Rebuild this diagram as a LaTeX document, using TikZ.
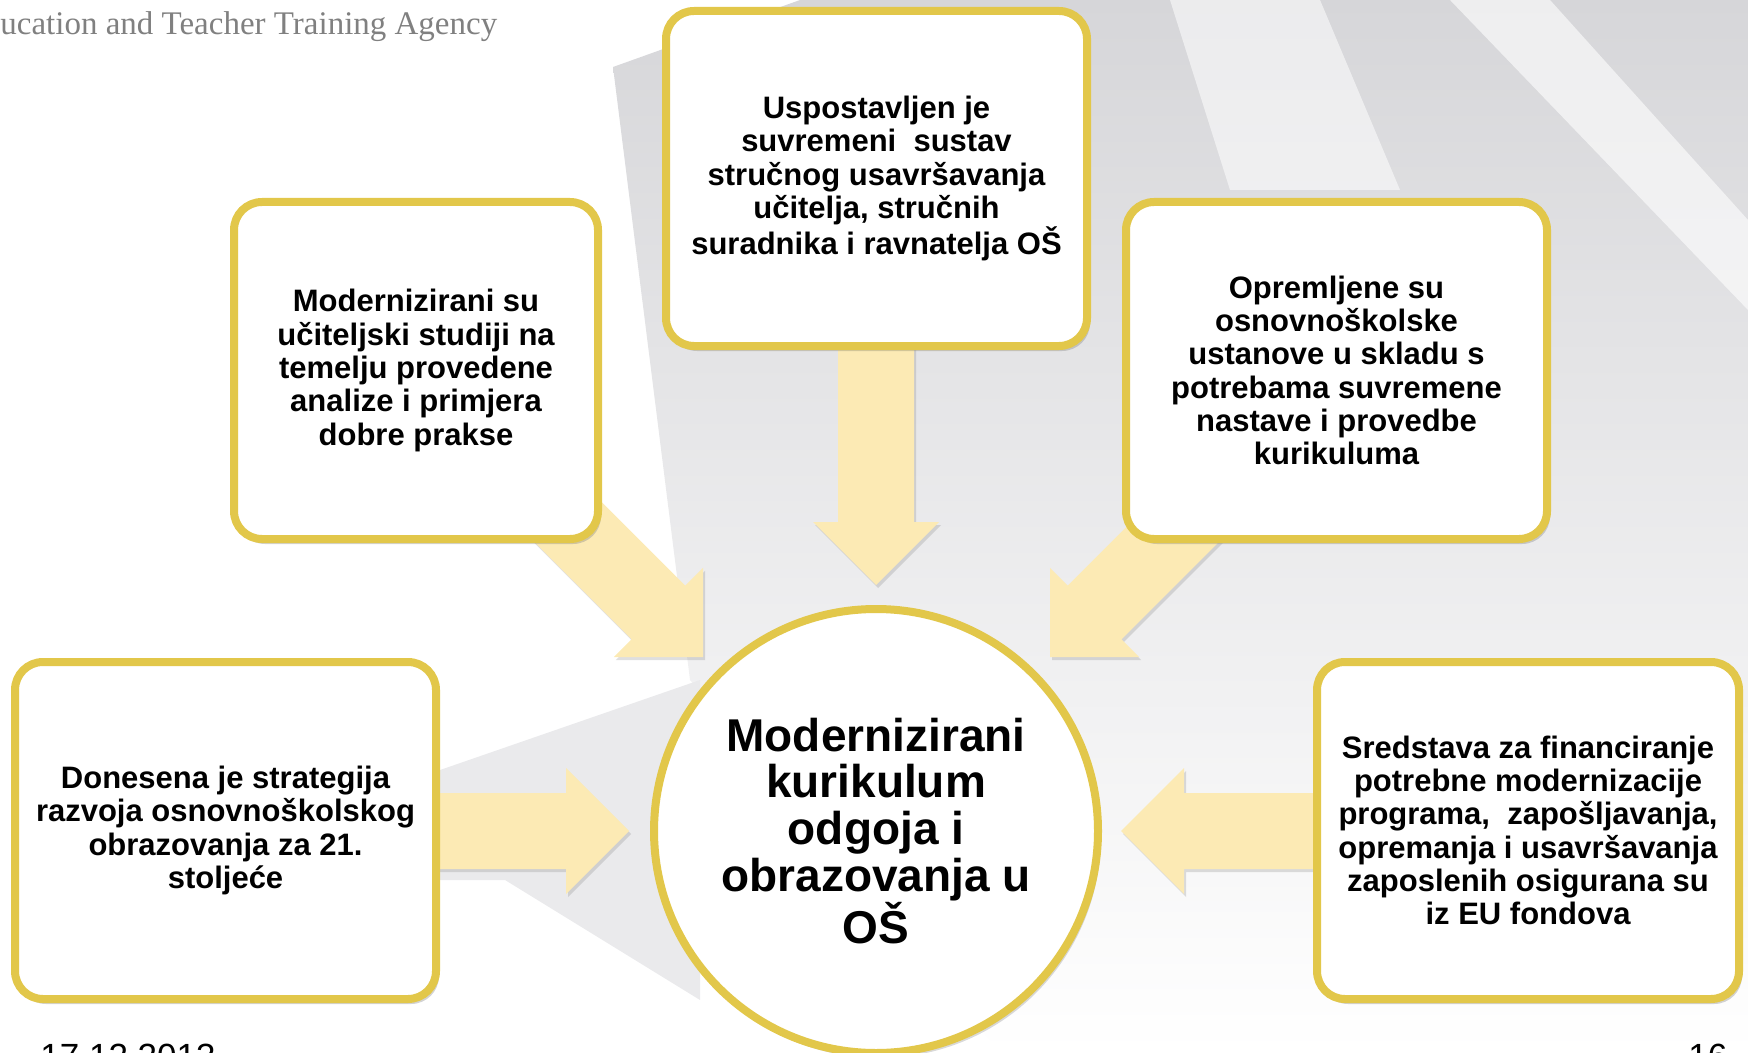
\documentclass[tikz,border=0pt]{standalone}
\usepackage{fontspec}
\setmainfont{Liberation Sans}
\newfontfamily\agencyfont{Liberation Serif}
\usetikzlibrary{shadows}

\definecolor{rimgold}{RGB}{226,199,74}
\definecolor{feedyellow}{RGB}{252,234,180}
\definecolor{paperdark}{RGB}{214,214,217}
\definecolor{paperwedge}{RGB}{234,234,236}
\definecolor{agencygrey}{RGB}{128,128,128}

\tikzset{
  box/.style={draw=rimgold, line width=4pt, fill=white, rounded corners=14pt,
    inner sep=0pt, align=center, font=\fontsize{15.5}{16.65}\selectfont\bfseries,
    drop shadow={shadow xshift=1.5pt, shadow yshift=-2.5pt, opacity=0.35}},
  hub/.style={circle, draw=rimgold, line width=4pt, fill=white, minimum size=222pt,
    inner sep=0pt, align=center, font=\fontsize{23}{23.35}\selectfont\bfseries,
    drop shadow={shadow xshift=1.5pt, shadow yshift=-2.5pt, opacity=0.3}},
  feed/.style={fill=feedyellow,
    drop shadow={shadow xshift=1pt, shadow yshift=-1.5pt, opacity=0.25}},
}

\begin{document}
\begin{tikzpicture}[x=0.5pt, y=-0.5pt]
  \useasboundingbox (0,0) rectangle (1748,1053);

  % folded paper in the background
  \shade[top color=paperdark, bottom color=white]
    (613,67) -- (800,0) -- (1748,0) -- (1748,1053) -- (1000,1053) -- (690,680) -- cycle;
  \fill[white, opacity=0.55] (1170,0) -- (1320,0) -- (1400,190) -- (1230,190) -- cycle;
  \fill[white, opacity=0.6] (1450,0) -- (1550,0) -- (1748,220) -- (1748,310) -- cycle;
  \fill[paperwedge] (440,770) -- (700,680) -- (700,1000) -- (505,880) -- (440,880) -- cycle;

  % header and footer, cut by the page
  \node[anchor=base west, inner sep=0pt, text=agencygrey, font=\agencyfont\fontsize{16.5}{18}\selectfont]
    (agency) at (0,35) {ucation and Teacher Training Agency};
  \node[anchor=base west, inner sep=0pt, font=\fontsize{17.5}{20}\selectfont]
    (date) at (40,1068) {17.12.2013};
  \node[anchor=base west, inner sep=0pt, font=\fontsize{17.5}{20}\selectfont]
    (page) at (1688,1068) {16};

  % block arrows: tip x / tip y / direction / length
  \foreach \tx/\ty/\ang/\len in {876/585/-90/250, 703/657/-45/230, 1050/657/-135/230,
                                 629/831/0/199, 1121/831/180/202} {
    \begin{scope}[shift={(\tx,\ty)}, rotate=\ang]
      \fill[feed] (0,0) -- (-63,63) -- (-63,38) -- (-\len,38) -- (-\len,-38)
        -- (-63,-38) -- (-63,-63) -- cycle;
    \end{scope}
  }

  % the five inputs
  \node[box, minimum width=210.5pt, minimum height=167.5pt] (teachers) at (876.5,178.5)
    {Uspostavljen je\\suvremeni\ \ sustav\\stručnog usavršavanja\\učitelja, stručnih\\suradnika i ravnatelja OŠ};
  \node[box, minimum width=182pt, minimum height=168.5pt] (studies) at (416,370.5)
    {Modernizirani su\\učiteljski studiji na\\temelju provedene\\analize i primjera\\dobre prakse};
  \node[box, minimum width=210.5pt, minimum height=168.5pt] (equipment) at (1336.5,370.5)
    {Opremljene su\\osnovnoškolske\\ustanove u skladu s\\potrebama suvremene\\nastave i provedbe\\kurikuluma};
  \node[box, minimum width=210.5pt, minimum height=168.5pt] (strategy) at (225.5,830.5)
    {Donesena je strategija\\razvoja osnovnoškolskog\\obrazovanja za 21.\\stoljeće};
  \node[box, minimum width=211pt, minimum height=168.5pt] (funds) at (1528,830.5)
    {Sredstava za financiranje\\potrebne modernizacije\\programa,\ \ zapošljavanja,\\opremanja i usavršavanja\\zaposlenih osigurana su\\iz EU fondova};

  % the goal
  \node[hub] (curriculum) at (876,831)
    {Modernizirani\\kurikulum\\odgoja i\\obrazovanja u\\OŠ};
\end{tikzpicture}
\end{document}
